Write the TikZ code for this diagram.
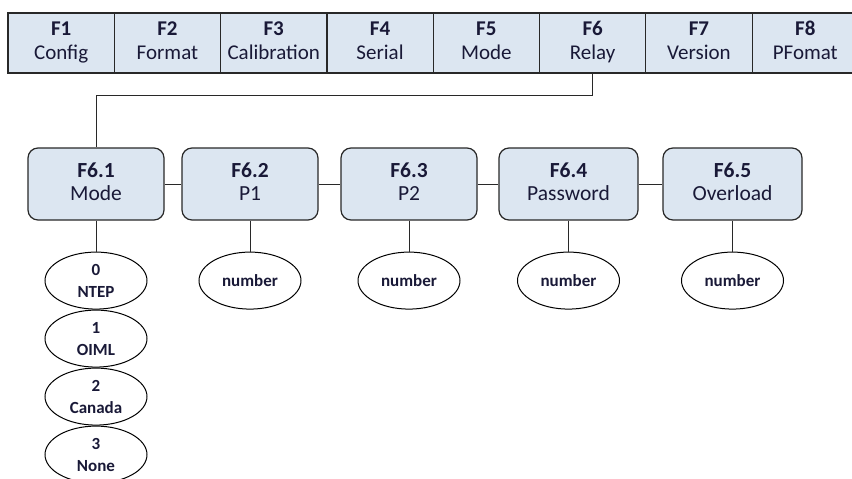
\documentclass[tikz,border=0pt]{standalone}
\usepackage{fontspec}
\setmainfont{Carlito}
\usetikzlibrary{shapes.geometric, positioning}
\definecolor{boxcolor}{RGB}{220, 230, 241}
\definecolor{textcolor}{RGB}{25, 25, 55}
\definecolor{linecolor}{RGB}{40, 40, 40}

\begin{document}
\begin{tikzpicture}[x=1pt, y=-1pt,
    menu/.style={draw=linecolor, line width=1.2pt, fill=boxcolor, minimum width=106.3pt, minimum height=60pt, inner sep=0pt, align=center, text=textcolor, font=\fontsize{21}{24}\selectfont},
    sub/.style={draw=linecolor, line width=1.2pt, fill=boxcolor, rounded corners=10pt, minimum width=136pt, minimum height=72pt, inner sep=0pt, align=center, text=textcolor, font=\fontsize{21.5}{23}\selectfont},
    opt/.style={draw, ellipse, line width=1pt, minimum width=102pt, minimum height=57pt, inner sep=0pt, align=center, text=textcolor, font=\bfseries\fontsize{17}{22}\selectfont},
    wire/.style={draw=linecolor, line width=1pt}]
    \useasboundingbox (0, 0) rectangle (852, 479);

    % Menu bar
    \foreach \i/\key/\name in {0/F1/Config, 1/F2/Format, 2/F3/Calibration, 3/F4/Serial, 4/F5/Mode, 5/F6/Relay, 6/F7/Version, 7/F8/PFomat} {
        \node[menu] (\key) at (61.15+106.3*\i, 43) {\textbf{\key}\strut\\\name\strut};
    }

    % Relay sub menu
    \node[sub] (mode) at (96, 184) {\textbf{F6.1}\strut\\Mode\strut};
    \node[sub] (p1) at (250, 184) {\textbf{F6.2}\strut\\P1\strut};
    \node[sub] (p2) at (409, 184) {\textbf{F6.3}\strut\\P2\strut};
    \node[sub, minimum width=139pt] (password) at (568.5, 184) {\textbf{F6.4}\strut\\Password\strut};
    \node[sub, minimum width=139pt] (overload) at (732.5, 184) {\textbf{F6.5}\strut\\Overload\strut};

    \draw[wire] (F6.south) -- ++(0, 22) -| (mode.north);
    \draw[wire] (mode) -- (p1);
    \draw[wire] (p1) -- (p2);
    \draw[wire] (p2) -- (password);
    \draw[wire] (password) -- (overload);

    % Mode options
    \node[opt, below=31pt of mode] (ntep) {0\\NTEP};
    \node[opt, below=0pt of ntep] (oiml) {1\\OIML};
    \node[opt, below=0pt of oiml] (canada) {2\\Canada};
    \node[opt, below=0pt of canada] (none) {3\\None};
    \draw[wire] (mode) -- (ntep);

    % Values
    \node[opt, below=31pt of p1] (num1) {number};
    \node[opt, below=31pt of p2] (num2) {number};
    \node[opt, below=31pt of password] (num3) {number};
    \node[opt, below=31pt of overload] (num4) {number};
    \draw[wire] (p1) -- (num1);
    \draw[wire] (p2) -- (num2);
    \draw[wire] (password) -- (num3);
    \draw[wire] (overload) -- (num4);

\end{tikzpicture}
\end{document}
